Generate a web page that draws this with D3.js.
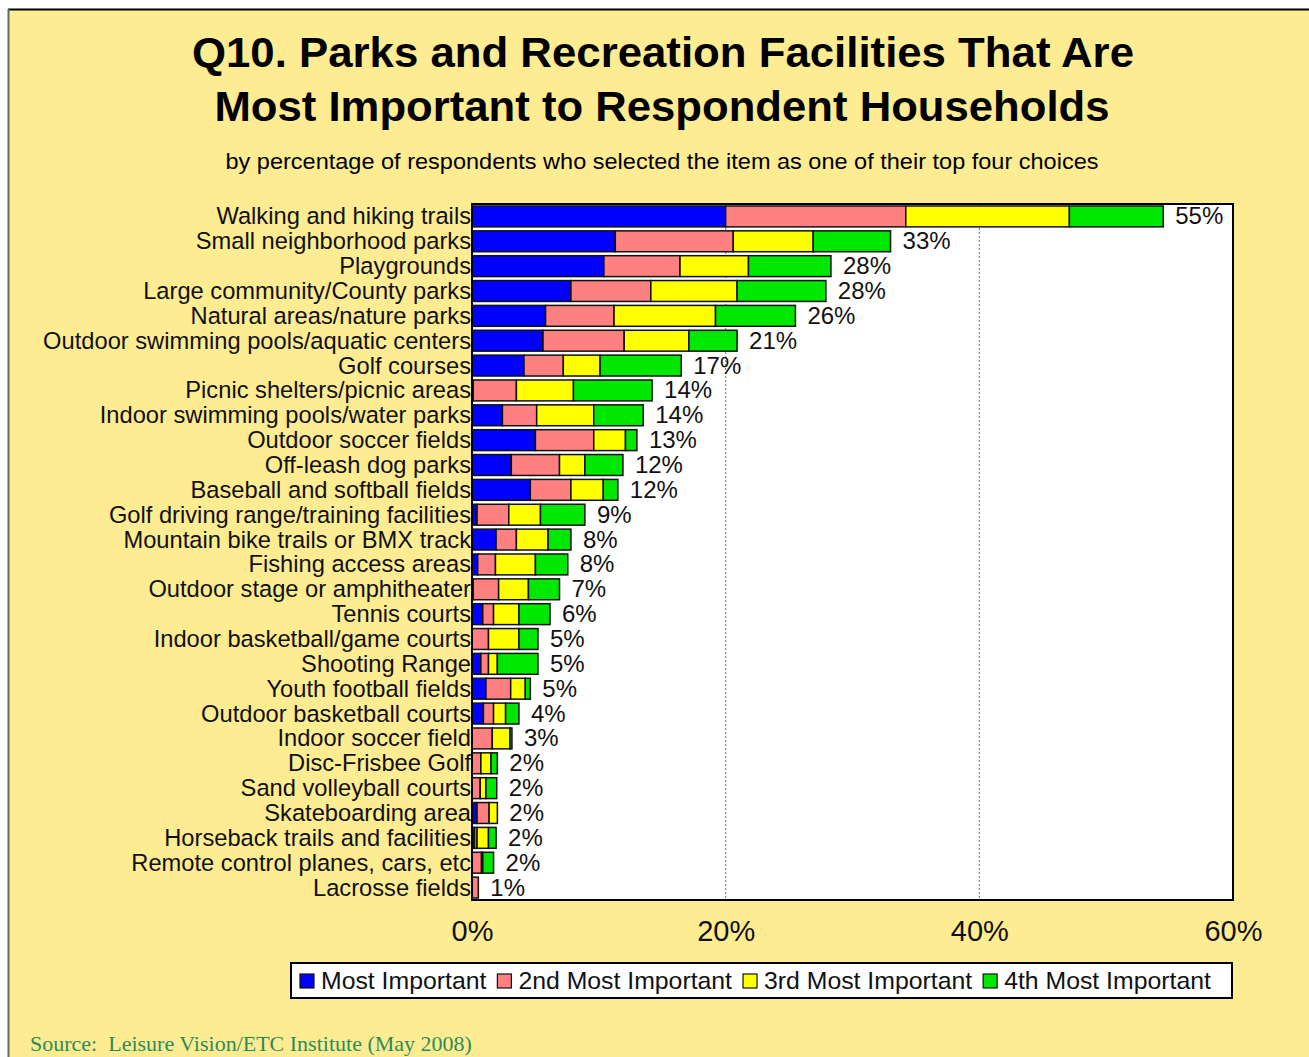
<!DOCTYPE html>
<html>
<head>
<meta charset="utf-8">
<script src="https://cdn.jsdelivr.net/npm/d3@7"></script>
<style>
  body { margin: 0; background: #ffffff; }
  svg { display: block; }
</style>
</head>
<body>
<div id="chart"></div>
<script>
// Categories, top to bottom
const categories = [
  "Walking and hiking trails", "Small neighborhood parks", "Playgrounds",
  "Large community/County parks", "Natural areas/nature parks",
  "Outdoor swimming pools/aquatic centers", "Golf courses",
  "Picnic shelters/picnic areas", "Indoor swimming pools/water parks",
  "Outdoor soccer fields", "Off-leash dog parks", "Baseball and softball fields",
  "Golf driving range/training facilities", "Mountain bike trails or BMX track",
  "Fishing access areas", "Outdoor stage or amphitheater", "Tennis courts",
  "Indoor basketball/game courts", "Shooting Range", "Youth football fields",
  "Outdoor basketball courts", "Indoor soccer field", "Disc-Frisbee Golf",
  "Sand volleyball courts", "Skateboarding area", "Horseback trails and facilities",
  "Remote control planes, cars, etc", "Lacrosse fields"
];

// Series values (percent of respondents)
const mostImportant = [20, 11.3, 10.4, 7.8, 5.8, 5.6, 4.1, 0.1, 2.4, 5.0, 3.1, 4.6, 0.4, 1.9,
  0.45, 0.1, 0.85, 0, 0.7, 1.1, 0.9, 0, 0, 0, 0.4, 0.2, 0, 0];
const secondImportant = [14.2, 9.3, 6.0, 6.3, 5.4, 6.4, 3.1, 3.4, 2.7, 4.6, 3.8, 3.2, 2.5, 1.6,
  1.4, 2.0, 0.85, 1.3, 0.6, 1.95, 0.8, 1.6, 0.7, 0.65, 0.95, 0.2, 0.75, 0.5];
const thirdImportant = [12.9, 6.3, 5.4, 6.8, 8.0, 5.1, 2.9, 4.5, 4.5, 2.5, 2.0, 2.55, 2.5, 2.5,
  3.15, 2.35, 2.0, 2.4, 0.7, 1.15, 0.95, 1.4, 0.8, 0.45, 0.65, 0.9, 0.1, 0];
const fourthImportant = [7.4, 6.1, 6.5, 7.0, 6.3, 3.8, 6.4, 6.2, 3.9, 0.9, 3.0, 1.15, 3.5, 1.8,
  2.55, 2.45, 2.45, 1.5, 3.2, 0.4, 1.05, 0.15, 0.5, 0.85, 0, 0.6, 0.85, 0];

// Total labels shown at the end of each bar
const totalLabels = [55, 33, 28, 28, 26, 21, 17, 14, 14, 13, 12, 12, 9, 8, 8, 7, 6, 5, 5, 5,
  4, 3, 2, 2, 2, 2, 2, 1];

const seriesNames = ["Most Important", "2nd Most Important", "3rd Most Important", "4th Most Important"];
const xTicks = [0, 20, 40, 60];

const W = 1309, H = 1057;
const margin = { top: 204, right: 76, bottom: 157, left: 472 };
const width = W - margin.left - margin.right;
const height = H - margin.top - margin.bottom;

const svg = d3.select("#chart").append("svg")
  .attr("width", W)
  .attr("height", H);

// Background panel
svg.append("rect")
  .attr("x", 8).attr("y", 9)
  .attr("width", W - 8).attr("height", H - 9)
  .attr("fill", "#feec93");
svg.append("line").attr("x1", 8).attr("x2", W).attr("y1", 9.5).attr("y2", 9.5)
  .attr("stroke", "#000").attr("stroke-width", 2);
svg.append("line").attr("x1", 8.5).attr("x2", 8.5).attr("y1", 9).attr("y2", H)
  .attr("stroke", "#666").attr("stroke-width", 2);

// Titles
svg.append("text")
  .attr("x", 663).attr("y", 67)
  .attr("text-anchor", "middle")
  .attr("font-family", "Liberation Sans, Arial, sans-serif")
  .attr("font-weight", "bold").attr("font-size", 42)
  .attr("textLength", 942).attr("lengthAdjust", "spacingAndGlyphs")
  .text("Q10. Parks and Recreation Facilities That Are");
svg.append("text")
  .attr("x", 662).attr("y", 121)
  .attr("text-anchor", "middle")
  .attr("font-family", "Liberation Sans, Arial, sans-serif")
  .attr("font-weight", "bold").attr("font-size", 42)
  .attr("textLength", 895).attr("lengthAdjust", "spacingAndGlyphs")
  .text("Most Important to Respondent Households");
svg.append("text")
  .attr("x", 662).attr("y", 169)
  .attr("text-anchor", "middle")
  .attr("font-family", "Liberation Sans, Arial, sans-serif")
  .attr("font-size", 22)
  .attr("textLength", 873).attr("lengthAdjust", "spacingAndGlyphs")
  .text("by percentage of respondents who selected the item as one of their top four choices");

const g = svg.append("g")
  .attr("transform", `translate(${margin.left},${margin.top})`);

// Scales
const x = d3.scaleLinear().domain([0, 60]).range([0, width]);
const y = d3.scaleBand().domain(categories).range([0, height]).paddingInner(0.16).paddingOuter(0.08);
const color = d3.scaleOrdinal()
  .domain(seriesNames)
  .range(["#0000ff", "#ff8080", "#ffff00", "#00e800"]);

// Plot area
g.append("rect")
  .attr("width", width).attr("height", height)
  .attr("fill", "#ffffff");

// Dotted gridlines
g.selectAll(".grid")
  .data(xTicks.filter(d => d > 0 && d < 60))
  .enter().append("line")
  .attr("x1", d => x(d)).attr("x2", d => x(d))
  .attr("y1", 0).attr("y2", height)
  .attr("stroke", "#888").attr("stroke-width", 1.2)
  .attr("stroke-dasharray", "2,2");

// Stack data
const table = categories.map((c, i) => ({
  category: c,
  "Most Important": mostImportant[i],
  "2nd Most Important": secondImportant[i],
  "3rd Most Important": thirdImportant[i],
  "4th Most Important": fourthImportant[i],
  label: totalLabels[i]
}));
const stacked = d3.stack().keys(seriesNames)(table);

g.selectAll(".series")
  .data(stacked)
  .enter().append("g")
  .attr("fill", d => color(d.key))
  .selectAll("rect")
  .data(d => d.filter(s => s[1] - s[0] > 0))
  .enter().append("rect")
  .attr("x", d => x(d[0]))
  .attr("y", d => y(d.data.category))
  .attr("width", d => x(d[1]) - x(d[0]))
  .attr("height", y.bandwidth())
  .attr("stroke", "#111")
  .attr("stroke-width", 1.5);

// Value labels
g.selectAll(".val")
  .data(table)
  .enter().append("text")
  .attr("x", d => x(d["Most Important"] + d["2nd Most Important"] + d["3rd Most Important"] + d["4th Most Important"]) + 12)
  .attr("y", d => y(d.category) + y.bandwidth() / 2 + 8)
  .attr("font-family", "Liberation Sans, Arial, sans-serif")
  .attr("font-size", 24)
  .attr("fill", "#111")
  .text(d => d.label + "%");

// Plot border
g.append("rect")
  .attr("width", width).attr("height", height)
  .attr("fill", "none")
  .attr("stroke", "#000").attr("stroke-width", 2);

// Category labels
g.selectAll(".cat")
  .data(categories)
  .enter().append("text")
  .attr("x", -1)
  .attr("y", d => y(d) + y.bandwidth() / 2 + 8)
  .attr("text-anchor", "end")
  .attr("font-family", "Liberation Sans, Arial, sans-serif")
  .attr("font-size", 23.7)
  .attr("fill", "#111")
  .text(d => d);

// X axis labels
const xAxis = g.append("g")
  .attr("transform", `translate(0,${height})`)
  .call(d3.axisBottom(x).tickValues(xTicks).tickFormat(d => d + "%").tickSize(0).tickPadding(20));
xAxis.select(".domain").remove();
xAxis.selectAll("text")
  .attr("font-family", "Liberation Sans, Arial, sans-serif")
  .attr("font-size", 29)
  .attr("fill", "#111");

// Legend
const legend = svg.append("g");
legend.append("rect")
  .attr("x", 291).attr("y", 963)
  .attr("width", 941).attr("height", 35)
  .attr("fill", "#ffffff")
  .attr("stroke", "#000").attr("stroke-width", 2);

let lx = 300;
seriesNames.forEach(name => {
  legend.append("rect")
    .attr("x", lx).attr("y", 974)
    .attr("width", 14).attr("height", 14)
    .attr("fill", color(name))
    .attr("stroke", "#111").attr("stroke-width", 1.2);
  const t = legend.append("text")
    .attr("x", lx + 21).attr("y", 989)
    .attr("font-family", "Liberation Sans, Arial, sans-serif")
    .attr("font-size", 24.8)
    .attr("fill", "#111")
    .text(name);
  lx += 21 + t.node().getComputedTextLength() + 11;
});

// Source note
svg.append("text")
  .attr("x", 30).attr("y", 1051)
  .attr("font-family", "Liberation Serif, Times New Roman, serif")
  .attr("font-size", 22)
  .attr("fill", "#2e8b57")
  .style("white-space", "pre")
  .text("Source:  Leisure Vision/ETC Institute (May 2008)");
</script>
</body>
</html>
